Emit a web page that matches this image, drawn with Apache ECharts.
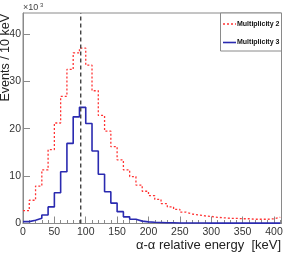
<!DOCTYPE html>
<html><head><meta charset="utf-8">
<script src="https://cdn.jsdelivr.net/npm/echarts@6/dist/echarts.min.js"></script>
<style>html,body{margin:0;padding:0;background:#fff;}#c{width:287px;height:254px;}</style>
</head><body><div id="c"></div>
<script>
// Bin lower edges (keV), 10 keV wide
const binWidth = 10;
const binEdges = [0,10,20,30,40,50,60,70,80,90,100,110,120,130,140,150,160,170,180,190,200,
  210,220,230,240,250,260,270,280,290,300,310,320,330,340,350,360,370,380,390,400];
// Events / 10 keV (x10^3)
const multiplicity2 = [2.7,4.9,7.9,11.3,15.6,21.2,26.8,32.5,36.0,37.0,33.4,28.0,22.8,19.5,16.2,13.4,11.3,9.9,8.1,6.8,5.9,
  5.1,4.2,3.5,3.0,2.4,2.0,1.8,1.6,1.5,1.3,1.2,1.1,1.1,1.0,1.0,0.9,0.9,0.9,1.0,1.3];
const multiplicity3 = [0.4,0.7,1.1,1.8,3.5,6.5,10.9,16.9,22.5,24.5,21.1,15.3,10.4,6.7,4.3,2.5,1.4,0.9,0.5,0.35,0.25,
  0.2,0.15,0.15,0.12,0.1,0.1,0.1,0.1,0.08,0.08,0.08,0.08,0.08,0.08,0.08,0.08,0.08,0.08,0.08,0.08];
const seriesNames = ['Multiplicity 2', 'Multiplicity 3'];
const xTicks = [0,50,100,150,200,250,300,350,400];
const yTicks = [0,10,20,30,40];
const markerEnergy = 92;
const xMax = 412, yMax = 44.4;

const red = '#ff3434', blue = '#2a2ab0';
function steps(vals){
  const pts = binEdges.map((e,i)=>[e, vals[i]]);
  pts.push([binEdges[binEdges.length-1]+binWidth, vals[vals.length-1]]);
  return pts;
}
const font = 'Liberation Sans, Arial, Helvetica, sans-serif';
const chart = echarts.init(document.getElementById('c'), null, {renderer:'canvas'});
chart.setOption({
  animation:false,
  backgroundColor:'#fff',
  grid:{left:23, right:5.5, top:13, bottom:30.5, show:true, borderColor:'#8a8a8a', borderWidth:1},
  xAxis:{type:'value', min:0, max:xMax, interval:50,
    axisLine:{lineStyle:{color:'#8a8a8a'}},
    axisTick:{inside:true, length:7, lineStyle:{color:'#8a8a8a'}},
    minorTick:{show:true, splitNumber:5, length:3.5, lineStyle:{color:'#8a8a8a'}},
    splitLine:{show:false},
    axisLabel:{showMaxLabel:false, color:'#333', fontFamily:font, fontSize:10.5, margin:3,
      formatter:v=> xTicks.includes(v)? String(v):''}},
  yAxis:{type:'value', min:0, max:yMax, interval:10,
    axisLine:{show:true, lineStyle:{color:'#8a8a8a'}},
    axisTick:{show:true, inside:true, length:7, lineStyle:{color:'#8a8a8a'}},
    splitLine:{show:false},
    axisLabel:{showMaxLabel:false, color:'#333', fontFamily:font, fontSize:10.5, margin:2,
      formatter:v=> yTicks.includes(v)? String(v):''}},
  graphic:[
    {type:'rect', shape:{x:220.5, y:13, width:61, height:38}, style:{fill:'#fff', stroke:'#8a8a8a', lineWidth:1}, z:10},
    {type:'line', shape:{x1:223, y1:24, x2:236, y2:24}, style:{stroke:red, lineWidth:1.3, lineDash:[2,2]}, z:11},
    {type:'text', x:237, y:24, style:{text:seriesNames[0], font:'bold 7px '+font, fill:'#111', verticalAlign:'middle'}, z:11},
    {type:'line', shape:{x1:223, y1:42.5, x2:236, y2:42.5}, style:{stroke:blue, lineWidth:1.6}, z:11},
    {type:'text', x:237, y:42.5, style:{text:seriesNames[1], font:'bold 7px '+font, fill:'#111', verticalAlign:'middle'}, z:11},
    {type:'text', x:23, y:8, style:{text:'×10', font:'9px '+font, fill:'#444', verticalAlign:'middle'}},
    {type:'text', x:40, y:5, style:{text:'3', font:'6px '+font, fill:'#444', verticalAlign:'middle'}},
    {type:'text', x:5.5, y:14, rotation:Math.PI/2, style:{text:'Events / 10 keV', font:'12.5px '+font, fill:'#222', align:'right', verticalAlign:'middle'}},
    {type:'text', x:281, y:245, style:{text:'α-α relative energy  [keV]', font:'13px '+font, fill:'#222', align:'right', verticalAlign:'middle'}}
  ],
  series:[
    {name:seriesNames[0], type:'line', step:'end', symbol:'none', data:steps(multiplicity2),
      lineStyle:{color:red, width:1.3, type:[2,2]}, itemStyle:{color:red}, z:2},
    {name:seriesNames[1], type:'line', step:'end', symbol:'none', data:steps(multiplicity3),
      lineStyle:{color:blue, width:1.6}, itemStyle:{color:blue}, z:3},
    {name:'marker', type:'line', symbol:'none', data:[[markerEnergy,0],[markerEnergy,yMax]],
      lineStyle:{color:'#444', width:1.4, type:[4,3]}, z:4, silent:true}
  ]
});
</script></body></html>
